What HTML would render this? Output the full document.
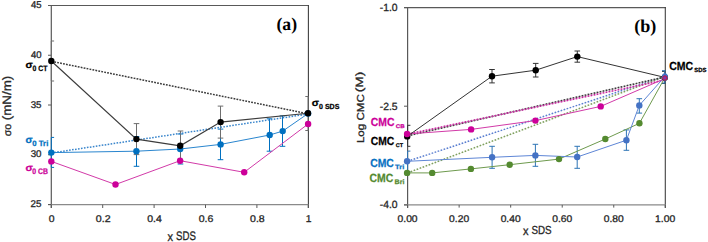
<!DOCTYPE html>
<html><head><meta charset="utf-8"><style>
html,body{margin:0;padding:0;background:#fff;width:708px;height:242px;overflow:hidden}
svg{display:block;text-rendering:geometricPrecision}

</style></head><body>
<svg width="708" height="242" viewBox="0 0 708 242"><defs><clipPath id="cl"><rect x="51.3" y="5" width="257" height="200"/></clipPath><clipPath id="cr"><rect x="407.6" y="7" width="257.8" height="198"/></clipPath></defs>
<line x1="48" y1="5.5" x2="308.5" y2="5.5" stroke="#595959" stroke-width="1.1" />
<line x1="51.3" y1="5" x2="51.3" y2="208" stroke="#595959" stroke-width="1.2" />
<line x1="308.4" y1="5" x2="308.4" y2="208" stroke="#404040" stroke-width="1.1" />
<line x1="48" y1="204.7" x2="308.5" y2="204.7" stroke="#8a8a8a" stroke-width="1.3" />
<line x1="48" y1="5.5" x2="51.3" y2="5.5" stroke="#595959" stroke-width="1" />
<line x1="48" y1="55.25" x2="51.3" y2="55.25" stroke="#595959" stroke-width="1" />
<line x1="48" y1="105.0" x2="51.3" y2="105.0" stroke="#595959" stroke-width="1" />
<line x1="48" y1="154.75" x2="51.3" y2="154.75" stroke="#595959" stroke-width="1" />
<line x1="48" y1="204.5" x2="51.3" y2="204.5" stroke="#595959" stroke-width="1" />
<line x1="51.3" y1="204.7" x2="51.3" y2="208" stroke="#595959" stroke-width="1" />
<line x1="102.69999999999999" y1="204.7" x2="102.69999999999999" y2="208" stroke="#595959" stroke-width="1" />
<line x1="154.1" y1="204.7" x2="154.1" y2="208" stroke="#595959" stroke-width="1" />
<line x1="205.5" y1="204.7" x2="205.5" y2="208" stroke="#595959" stroke-width="1" />
<line x1="256.9" y1="204.7" x2="256.9" y2="208" stroke="#595959" stroke-width="1" />
<line x1="308.3" y1="204.7" x2="308.3" y2="208" stroke="#595959" stroke-width="1" />
<text x="30.91" y="7.85" style="font-family:&quot;Liberation Sans&quot;,sans-serif" font-size="9.86" fill="#262626" stroke="#262626" stroke-width="0.3" text-anchor="start" font-weight="normal" textLength="10.59" lengthAdjust="spacingAndGlyphs" >45</text>
<text x="30.91" y="57.75" style="font-family:&quot;Liberation Sans&quot;,sans-serif" font-size="9.72" fill="#262626" stroke="#262626" stroke-width="0.3" text-anchor="start" font-weight="normal" textLength="10.59" lengthAdjust="spacingAndGlyphs" >40</text>
<text x="30.71" y="107.65" style="font-family:&quot;Liberation Sans&quot;,sans-serif" font-size="9.72" fill="#262626" stroke="#262626" stroke-width="0.3" text-anchor="start" font-weight="normal" textLength="10.8" lengthAdjust="spacingAndGlyphs" >35</text>
<text x="30.71" y="157.15" style="font-family:&quot;Liberation Sans&quot;,sans-serif" font-size="9.72" fill="#262626" stroke="#262626" stroke-width="0.3" text-anchor="start" font-weight="normal" textLength="10.8" lengthAdjust="spacingAndGlyphs" >30</text>
<text x="30.61" y="207.15" style="font-family:&quot;Liberation Sans&quot;,sans-serif" font-size="9.72" fill="#262626" stroke="#262626" stroke-width="0.3" text-anchor="start" font-weight="normal" textLength="10.91" lengthAdjust="spacingAndGlyphs" >25</text>
<text x="48.88" y="221.9" style="font-family:&quot;Liberation Sans&quot;,sans-serif" font-size="9.72" fill="#262626" stroke="#262626" stroke-width="0.3" text-anchor="start" font-weight="normal" textLength="5.79" lengthAdjust="spacingAndGlyphs" >0</text>
<text x="95.88" y="221.9" style="font-family:&quot;Liberation Sans&quot;,sans-serif" font-size="9.72" fill="#262626" stroke="#262626" stroke-width="0.3" text-anchor="start" font-weight="normal" textLength="14.76" lengthAdjust="spacingAndGlyphs" >0.2</text>
<text x="147.28" y="221.9" style="font-family:&quot;Liberation Sans&quot;,sans-serif" font-size="9.72" fill="#262626" stroke="#262626" stroke-width="0.3" text-anchor="start" font-weight="normal" textLength="14.53" lengthAdjust="spacingAndGlyphs" >0.4</text>
<text x="198.68" y="221.9" style="font-family:&quot;Liberation Sans&quot;,sans-serif" font-size="9.72" fill="#262626" stroke="#262626" stroke-width="0.3" text-anchor="start" font-weight="normal" textLength="14.64" lengthAdjust="spacingAndGlyphs" >0.6</text>
<text x="250.08" y="221.9" style="font-family:&quot;Liberation Sans&quot;,sans-serif" font-size="9.72" fill="#262626" stroke="#262626" stroke-width="0.3" text-anchor="start" font-weight="normal" textLength="14.64" lengthAdjust="spacingAndGlyphs" >0.8</text>
<text x="305.78" y="222.0" style="font-family:&quot;Liberation Sans&quot;,sans-serif" font-size="10.0" fill="#262626" stroke="#262626" stroke-width="0.3" text-anchor="start" font-weight="normal" textLength="5.69" lengthAdjust="spacingAndGlyphs" >1</text>
<text x="167.49" y="240.6" style="font-family:&quot;Liberation Sans&quot;,sans-serif" font-size="12.6" fill="#262626" stroke="#262626" stroke-width="0.3" text-anchor="start" font-weight="normal" textLength="5.52" lengthAdjust="spacingAndGlyphs" >x</text>
<text x="176.12" y="240.48" style="font-family:&quot;Liberation Sans&quot;,sans-serif" font-size="12.39" fill="#262626" stroke="#262626" stroke-width="0.3" text-anchor="start" font-weight="normal" textLength="19.83" lengthAdjust="spacingAndGlyphs" >SDS</text>
<g transform="rotate(-90)"><text x="-136.23" y="10.79" style="font-family:&quot;Liberation Sans&quot;,sans-serif" font-size="10.55" fill="#262626" stroke="#262626" stroke-width="0.3" text-anchor="start" font-weight="normal" textLength="12.49" lengthAdjust="spacingAndGlyphs" >σo</text><text x="-120.3" y="10.85" style="font-family:&quot;Liberation Sans&quot;,sans-serif" font-size="12.13" fill="#262626" stroke="#262626" stroke-width="0.3" text-anchor="start" font-weight="normal" textLength="44.63" lengthAdjust="spacingAndGlyphs" >(mN/m)</text></g>
<text x="276.49" y="30.14" style="font-family:&quot;Liberation Serif&quot;,serif" font-size="17.89" fill="#000" text-anchor="start" font-weight="bold" textLength="20.62" lengthAdjust="spacingAndGlyphs" >(a)</text>
<g>
<line x1="51.3" y1="137.4" x2="51.3" y2="167.4" stroke="#0070C0" stroke-width="1.0" /><g clip-path="url(#cl)"><line x1="48.5" y1="137.4" x2="54.099999999999994" y2="137.4" stroke="#0070C0" stroke-width="1.0" /><line x1="48.5" y1="167.4" x2="54.099999999999994" y2="167.4" stroke="#0070C0" stroke-width="1.0" /></g>
<line x1="136.5" y1="136.5" x2="136.5" y2="166.3" stroke="#0070C0" stroke-width="1.0" /><g clip-path="url(#cl)"><line x1="133.7" y1="136.5" x2="139.3" y2="136.5" stroke="#0070C0" stroke-width="1.0" /><line x1="133.7" y1="166.3" x2="139.3" y2="166.3" stroke="#0070C0" stroke-width="1.0" /></g>
<line x1="180.5" y1="134" x2="180.5" y2="164" stroke="#0070C0" stroke-width="1.0" /><g clip-path="url(#cl)"><line x1="177.7" y1="134" x2="183.3" y2="134" stroke="#0070C0" stroke-width="1.0" /><line x1="177.7" y1="164" x2="183.3" y2="164" stroke="#0070C0" stroke-width="1.0" /></g>
<line x1="220.5" y1="129.1" x2="220.5" y2="159.70000000000002" stroke="#0070C0" stroke-width="1.0" /><g clip-path="url(#cl)"><line x1="217.7" y1="129.1" x2="223.3" y2="129.1" stroke="#0070C0" stroke-width="1.0" /><line x1="217.7" y1="159.70000000000002" x2="223.3" y2="159.70000000000002" stroke="#0070C0" stroke-width="1.0" /></g>
<line x1="269.5" y1="118.8" x2="269.5" y2="151.2" stroke="#0070C0" stroke-width="1.0" /><g clip-path="url(#cl)"><line x1="266.7" y1="118.8" x2="272.3" y2="118.8" stroke="#0070C0" stroke-width="1.0" /><line x1="266.7" y1="151.2" x2="272.3" y2="151.2" stroke="#0070C0" stroke-width="1.0" /></g>
<line x1="282.5" y1="115.89999999999999" x2="282.5" y2="146.29999999999998" stroke="#0070C0" stroke-width="1.0" /><g clip-path="url(#cl)"><line x1="279.7" y1="115.89999999999999" x2="285.3" y2="115.89999999999999" stroke="#0070C0" stroke-width="1.0" /><line x1="279.7" y1="146.29999999999998" x2="285.3" y2="146.29999999999998" stroke="#0070C0" stroke-width="1.0" /></g>
<line x1="51.3" y1="41" x2="51.3" y2="81" stroke="#6e6e6e" stroke-width="1.0" /><g clip-path="url(#cl)"><line x1="48.5" y1="41" x2="54.099999999999994" y2="41" stroke="#6e6e6e" stroke-width="1.0" /><line x1="48.5" y1="81" x2="54.099999999999994" y2="81" stroke="#6e6e6e" stroke-width="1.0" /></g>
<line x1="136.5" y1="123.6" x2="136.5" y2="154.6" stroke="#6e6e6e" stroke-width="1.0" /><g clip-path="url(#cl)"><line x1="133.7" y1="123.6" x2="139.3" y2="123.6" stroke="#6e6e6e" stroke-width="1.0" /><line x1="133.7" y1="154.6" x2="139.3" y2="154.6" stroke="#6e6e6e" stroke-width="1.0" /></g>
<line x1="180.5" y1="131.0" x2="180.5" y2="160.60000000000002" stroke="#6e6e6e" stroke-width="1.0" /><g clip-path="url(#cl)"><line x1="177.7" y1="131.0" x2="183.3" y2="131.0" stroke="#6e6e6e" stroke-width="1.0" /><line x1="177.7" y1="160.60000000000002" x2="183.3" y2="160.60000000000002" stroke="#6e6e6e" stroke-width="1.0" /></g>
<line x1="220.5" y1="106.1" x2="220.5" y2="138.1" stroke="#6e6e6e" stroke-width="1.0" /><g clip-path="url(#cl)"><line x1="217.7" y1="106.1" x2="223.3" y2="106.1" stroke="#6e6e6e" stroke-width="1.0" /><line x1="217.7" y1="138.1" x2="223.3" y2="138.1" stroke="#6e6e6e" stroke-width="1.0" /></g>
<line x1="308.1" y1="96.5" x2="308.1" y2="130.5" stroke="#6e6e6e" stroke-width="1.0" /><g clip-path="url(#cl)"><line x1="305.3" y1="96.5" x2="310.90000000000003" y2="96.5" stroke="#6e6e6e" stroke-width="1.0" /><line x1="305.3" y1="130.5" x2="310.90000000000003" y2="130.5" stroke="#6e6e6e" stroke-width="1.0" /></g>
<line x1="51.3" y1="61.3" x2="308.0" y2="113.8" stroke="#3a3a3a" stroke-width="1.5" stroke-dasharray="1.8 1.2"/>
<line x1="51.3" y1="153.0" x2="308.1" y2="114.0" stroke="#3A86CC" stroke-width="1.5" stroke-dasharray="1.6 1.4"/>
<polyline points="51.3,161.4 115.5,184.5 180.1,160.7 244.2,172.3 308.1,124.0" fill="none" stroke="#D23AA8" stroke-width="1.0" />
<polyline points="51.3,152.6 136.4,151.2 180.2,149 220.6,144.4 269.7,135 282.7,131.1 308.1,113.5" fill="none" stroke="#2A86CF" stroke-width="1.0" />
<polyline points="51.3,61 136.4,139.1 180.2,145.8 220.6,122.1 308.0,113.3" fill="none" stroke="#3c3c3c" stroke-width="1.15" />
</g>
<circle cx="51.3" cy="161.4" r="3.2" fill="#CC0099"/><circle cx="115.5" cy="184.5" r="3.2" fill="#CC0099"/><circle cx="180.1" cy="160.7" r="3.2" fill="#CC0099"/><circle cx="244.2" cy="172.3" r="3.2" fill="#CC0099"/><circle cx="308.1" cy="124.0" r="3.2" fill="#CC0099"/>
<circle cx="51.3" cy="152.6" r="3.2" fill="#0070C0"/><circle cx="136.4" cy="151.2" r="3.2" fill="#0070C0"/><circle cx="180.2" cy="149" r="3.2" fill="#0070C0"/><circle cx="220.6" cy="144.4" r="3.2" fill="#0070C0"/><circle cx="269.7" cy="135" r="3.2" fill="#0070C0"/><circle cx="282.7" cy="131.1" r="3.2" fill="#0070C0"/><circle cx="308.1" cy="113.5" r="3.2" fill="#0070C0"/>
<circle cx="51.3" cy="61" r="3.2" fill="#000"/><circle cx="136.4" cy="139.1" r="3.2" fill="#000"/><circle cx="180.2" cy="145.8" r="3.2" fill="#000"/><circle cx="220.6" cy="122.1" r="3.2" fill="#000"/><circle cx="308.0" cy="113.3" r="3.2" fill="#000"/>
<text x="25.57" y="67.5" style="font-family:&quot;Liberation Sans&quot;,sans-serif" font-size="9.81" fill="#000" stroke="#000" stroke-width="0.25" text-anchor="start" font-weight="bold" textLength="7.28" lengthAdjust="spacingAndGlyphs" >σ</text>
<text x="32.62" y="70.52" style="font-family:&quot;Liberation Sans&quot;,sans-serif" font-size="7.75" fill="#000" stroke="#000" stroke-width="0.25" text-anchor="start" font-weight="bold" textLength="14.92" lengthAdjust="spacingAndGlyphs" >0 CT</text>
<text x="25.49" y="142.5" style="font-family:&quot;Liberation Sans&quot;,sans-serif" font-size="10.0" fill="#0070C0" stroke="#0070C0" stroke-width="0.25" text-anchor="start" font-weight="bold" textLength="7.06" lengthAdjust="spacingAndGlyphs" >σ</text>
<text x="32.29" y="145.72" style="font-family:&quot;Liberation Sans&quot;,sans-serif" font-size="7.7" fill="#0070C0" stroke="#0070C0" stroke-width="0.25" text-anchor="start" font-weight="bold" textLength="16.03" lengthAdjust="spacingAndGlyphs" >0 Tri</text>
<text x="25.47" y="170.5" style="font-family:&quot;Liberation Sans&quot;,sans-serif" font-size="9.81" fill="#CC0099" stroke="#CC0099" stroke-width="0.25" text-anchor="start" font-weight="bold" textLength="7.39" lengthAdjust="spacingAndGlyphs" >σ</text>
<text x="32.32" y="173.92" style="font-family:&quot;Liberation Sans&quot;,sans-serif" font-size="8.03" fill="#CC0099" stroke="#CC0099" stroke-width="0.25" text-anchor="start" font-weight="bold" textLength="15.71" lengthAdjust="spacingAndGlyphs" >0 CB</text>
<text x="311.87" y="105.5" style="font-family:&quot;Liberation Sans&quot;,sans-serif" font-size="9.81" fill="#000" stroke="#000" stroke-width="0.25" text-anchor="start" font-weight="bold" textLength="7.28" lengthAdjust="spacingAndGlyphs" >σ</text>
<text x="319.02" y="108.53" style="font-family:&quot;Liberation Sans&quot;,sans-serif" font-size="7.32" fill="#000" stroke="#000" stroke-width="0.25" text-anchor="start" font-weight="bold" textLength="20.36" lengthAdjust="spacingAndGlyphs" >0 SDS</text>
<line x1="404" y1="7.6" x2="665.8" y2="7.6" stroke="#595959" stroke-width="1.1" />
<line x1="407.6" y1="7" x2="407.6" y2="208" stroke="#595959" stroke-width="1.2" />
<line x1="665.3" y1="7" x2="665.3" y2="208" stroke="#404040" stroke-width="1.1" />
<line x1="404" y1="204.9" x2="665.8" y2="204.9" stroke="#8a8a8a" stroke-width="1.3" />
<line x1="404" y1="7.6" x2="407.6" y2="7.6" stroke="#595959" stroke-width="1" />
<line x1="404" y1="106.2" x2="407.6" y2="106.2" stroke="#595959" stroke-width="1" />
<line x1="404" y1="204.9" x2="407.6" y2="204.9" stroke="#595959" stroke-width="1" />
<line x1="407.6" y1="204.9" x2="407.6" y2="207.6" stroke="#595959" stroke-width="1" />
<line x1="459.14" y1="204.9" x2="459.14" y2="207.6" stroke="#595959" stroke-width="1" />
<line x1="510.68" y1="204.9" x2="510.68" y2="207.6" stroke="#595959" stroke-width="1" />
<line x1="562.22" y1="204.9" x2="562.22" y2="207.6" stroke="#595959" stroke-width="1" />
<line x1="613.76" y1="204.9" x2="613.76" y2="207.6" stroke="#595959" stroke-width="1" />
<line x1="665.3" y1="204.9" x2="665.3" y2="207.6" stroke="#595959" stroke-width="1" />
<text x="379.79" y="10.5" style="font-family:&quot;Liberation Sans&quot;,sans-serif" font-size="10.42" fill="#262626" stroke="#262626" stroke-width="0.3" text-anchor="start" font-weight="normal" textLength="17.86" lengthAdjust="spacingAndGlyphs" >-1.0</text>
<text x="379.79" y="109.6" style="font-family:&quot;Liberation Sans&quot;,sans-serif" font-size="10.42" fill="#262626" stroke="#262626" stroke-width="0.3" text-anchor="start" font-weight="normal" textLength="17.86" lengthAdjust="spacingAndGlyphs" >-2.5</text>
<text x="379.79" y="208.2" style="font-family:&quot;Liberation Sans&quot;,sans-serif" font-size="10.42" fill="#262626" stroke="#262626" stroke-width="0.3" text-anchor="start" font-weight="normal" textLength="17.86" lengthAdjust="spacingAndGlyphs" >-4.0</text>
<text x="397.59" y="221.9" style="font-family:&quot;Liberation Sans&quot;,sans-serif" font-size="9.72" fill="#262626" stroke="#262626" stroke-width="0.3" text-anchor="start" font-weight="normal" textLength="19.98" lengthAdjust="spacingAndGlyphs" >0.00</text>
<text x="449.13" y="221.9" style="font-family:&quot;Liberation Sans&quot;,sans-serif" font-size="9.72" fill="#262626" stroke="#262626" stroke-width="0.3" text-anchor="start" font-weight="normal" textLength="19.98" lengthAdjust="spacingAndGlyphs" >0.20</text>
<text x="500.67" y="221.9" style="font-family:&quot;Liberation Sans&quot;,sans-serif" font-size="9.72" fill="#262626" stroke="#262626" stroke-width="0.3" text-anchor="start" font-weight="normal" textLength="19.98" lengthAdjust="spacingAndGlyphs" >0.40</text>
<text x="552.21" y="221.9" style="font-family:&quot;Liberation Sans&quot;,sans-serif" font-size="9.72" fill="#262626" stroke="#262626" stroke-width="0.3" text-anchor="start" font-weight="normal" textLength="19.98" lengthAdjust="spacingAndGlyphs" >0.60</text>
<text x="603.75" y="221.9" style="font-family:&quot;Liberation Sans&quot;,sans-serif" font-size="9.72" fill="#262626" stroke="#262626" stroke-width="0.3" text-anchor="start" font-weight="normal" textLength="19.98" lengthAdjust="spacingAndGlyphs" >0.80</text>
<text x="654.97" y="221.9" style="font-family:&quot;Liberation Sans&quot;,sans-serif" font-size="9.72" fill="#262626" stroke="#262626" stroke-width="0.3" text-anchor="start" font-weight="normal" textLength="20.21" lengthAdjust="spacingAndGlyphs" >1.00</text>
<text x="522.89" y="234.6" style="font-family:&quot;Liberation Sans&quot;,sans-serif" font-size="12.2" fill="#262626" stroke="#262626" stroke-width="0.3" text-anchor="start" font-weight="normal" textLength="5.52" lengthAdjust="spacingAndGlyphs" >x</text>
<text x="531.41" y="234.48" style="font-family:&quot;Liberation Sans&quot;,sans-serif" font-size="11.69" fill="#262626" stroke="#262626" stroke-width="0.3" text-anchor="start" font-weight="normal" textLength="20.14" lengthAdjust="spacingAndGlyphs" >SDS</text>
<g transform="rotate(-90)"><text x="-143.13" y="363.58" style="font-family:&quot;Liberation Sans&quot;,sans-serif" font-size="10.11" fill="#262626" stroke="#262626" stroke-width="0.3" text-anchor="start" font-weight="normal" textLength="48.93" lengthAdjust="spacingAndGlyphs" >Log CMC</text><text x="-92.23" y="363.49" style="font-family:&quot;Liberation Sans&quot;,sans-serif" font-size="10.53" fill="#262626" stroke="#262626" stroke-width="0.3" text-anchor="start" font-weight="normal" textLength="20.64" lengthAdjust="spacingAndGlyphs" >(M)</text></g>
<text x="634.28" y="32.07" style="font-family:&quot;Liberation Serif&quot;,serif" font-size="18.22" fill="#000" text-anchor="start" font-weight="bold" textLength="22.09" lengthAdjust="spacingAndGlyphs" >(b)</text>
<g>
<line x1="407.6" y1="125.30000000000001" x2="407.6" y2="146.3" stroke="#333" stroke-width="1.0" /><g clip-path="url(#cr)"><line x1="404.8" y1="125.30000000000001" x2="410.40000000000003" y2="125.30000000000001" stroke="#333" stroke-width="1.0" /><line x1="404.8" y1="146.3" x2="410.40000000000003" y2="146.3" stroke="#333" stroke-width="1.0" /></g>
<line x1="492" y1="69.5" x2="492" y2="82.9" stroke="#333" stroke-width="1.0" /><g clip-path="url(#cr)"><line x1="489.2" y1="69.5" x2="494.8" y2="69.5" stroke="#333" stroke-width="1.0" /><line x1="489.2" y1="82.9" x2="494.8" y2="82.9" stroke="#333" stroke-width="1.0" /></g>
<line x1="535.7" y1="63.400000000000006" x2="535.7" y2="77.0" stroke="#333" stroke-width="1.0" /><g clip-path="url(#cr)"><line x1="532.9000000000001" y1="63.400000000000006" x2="538.5" y2="63.400000000000006" stroke="#333" stroke-width="1.0" /><line x1="532.9000000000001" y1="77.0" x2="538.5" y2="77.0" stroke="#333" stroke-width="1.0" /></g>
<line x1="577.3" y1="51.0" x2="577.3" y2="62.2" stroke="#333" stroke-width="1.0" /><g clip-path="url(#cr)"><line x1="574.5" y1="51.0" x2="580.0999999999999" y2="51.0" stroke="#333" stroke-width="1.0" /><line x1="574.5" y1="62.2" x2="580.0999999999999" y2="62.2" stroke="#333" stroke-width="1.0" /></g>
<line x1="664.8" y1="71.4" x2="664.8" y2="83.4" stroke="#333" stroke-width="1.0" /><g clip-path="url(#cr)"><line x1="662.0" y1="71.4" x2="667.5999999999999" y2="71.4" stroke="#333" stroke-width="1.0" /><line x1="662.0" y1="83.4" x2="667.5999999999999" y2="83.4" stroke="#333" stroke-width="1.0" /></g>
<line x1="407.6" y1="151.10000000000002" x2="407.6" y2="171.5" stroke="#2E75B6" stroke-width="1.0" /><g clip-path="url(#cr)"><line x1="404.8" y1="151.10000000000002" x2="410.40000000000003" y2="151.10000000000002" stroke="#2E75B6" stroke-width="1.0" /><line x1="404.8" y1="171.5" x2="410.40000000000003" y2="171.5" stroke="#2E75B6" stroke-width="1.0" /></g>
<line x1="492.1" y1="146.3" x2="492.1" y2="168.3" stroke="#2E75B6" stroke-width="1.0" /><g clip-path="url(#cr)"><line x1="489.3" y1="146.3" x2="494.90000000000003" y2="146.3" stroke="#2E75B6" stroke-width="1.0" /><line x1="489.3" y1="168.3" x2="494.90000000000003" y2="168.3" stroke="#2E75B6" stroke-width="1.0" /></g>
<line x1="535.4" y1="144.3" x2="535.4" y2="166.3" stroke="#2E75B6" stroke-width="1.0" /><g clip-path="url(#cr)"><line x1="532.6" y1="144.3" x2="538.1999999999999" y2="144.3" stroke="#2E75B6" stroke-width="1.0" /><line x1="532.6" y1="166.3" x2="538.1999999999999" y2="166.3" stroke="#2E75B6" stroke-width="1.0" /></g>
<line x1="577.2" y1="146.3" x2="577.2" y2="168.3" stroke="#2E75B6" stroke-width="1.0" /><g clip-path="url(#cr)"><line x1="574.4000000000001" y1="146.3" x2="580.0" y2="146.3" stroke="#2E75B6" stroke-width="1.0" /><line x1="574.4000000000001" y1="168.3" x2="580.0" y2="168.3" stroke="#2E75B6" stroke-width="1.0" /></g>
<line x1="626.4" y1="129.9" x2="626.4" y2="150.29999999999998" stroke="#2E75B6" stroke-width="1.0" /><g clip-path="url(#cr)"><line x1="623.6" y1="129.9" x2="629.1999999999999" y2="129.9" stroke="#2E75B6" stroke-width="1.0" /><line x1="623.6" y1="150.29999999999998" x2="629.1999999999999" y2="150.29999999999998" stroke="#2E75B6" stroke-width="1.0" /></g>
<line x1="639.3" y1="98.7" x2="639.3" y2="113.10000000000001" stroke="#2E75B6" stroke-width="1.0" /><g clip-path="url(#cr)"><line x1="636.5" y1="98.7" x2="642.0999999999999" y2="98.7" stroke="#2E75B6" stroke-width="1.0" /><line x1="636.5" y1="113.10000000000001" x2="642.0999999999999" y2="113.10000000000001" stroke="#2E75B6" stroke-width="1.0" /></g>
<line x1="664.8" y1="70.7" x2="664.8" y2="83.10000000000001" stroke="#2E75B6" stroke-width="1.0" /><g clip-path="url(#cr)"><line x1="662.0" y1="70.7" x2="667.5999999999999" y2="70.7" stroke="#2E75B6" stroke-width="1.0" /><line x1="662.0" y1="83.10000000000001" x2="667.5999999999999" y2="83.10000000000001" stroke="#2E75B6" stroke-width="1.0" /></g>
<line x1="407.6" y1="161.3" x2="664.8" y2="76.5" stroke="#5B7FD0" stroke-width="1.5" stroke-dasharray="1.685 1.474"/>
<line x1="407.6" y1="172.9" x2="664.8" y2="76.5" stroke="#7FA05E" stroke-width="1.5" stroke-dasharray="1.709 1.495"/>
<line x1="407.6" y1="135.8" x2="664.8" y2="77.0" stroke="#3a3a3a" stroke-width="1.6" stroke-dasharray="1.846 1.231"/>
<line x1="407.6" y1="134.1" x2="664.8" y2="80.0" stroke="#C8259F" stroke-width="1.6" stroke-dasharray="1.839 1.226"/>
<polyline points="407.1,172.9 432.2,172.9 470.9,168.9 509.7,164.7 559.0,159.1 605.3,139.0 639.4,123.3 664.8,77.8" fill="none" stroke="#6E9A4E" stroke-width="1.0" />
<polyline points="407.1,161.3 492.1,157.3 535.4,155.4 577.2,157 626.4,140.2 639.3,105.4 664.8,76.6" fill="none" stroke="#5E86D6" stroke-width="1.0" />
<polyline points="407.1,134.0 471.1,129.4 535.4,120.6 600.7,106.4 664.8,78.6" fill="none" stroke="#D23AA8" stroke-width="1.0" />
<polyline points="407.2,136.4 492,76.2 535.7,70.2 577.3,56.6 664.8,77.4" fill="none" stroke="#333" stroke-width="1.0" />
</g>
<circle cx="407.1" cy="172.9" r="3.2" fill="#548A30"/><circle cx="432.2" cy="172.9" r="3.2" fill="#548A30"/><circle cx="470.9" cy="168.9" r="3.2" fill="#548A30"/><circle cx="509.7" cy="164.7" r="3.2" fill="#548A30"/><circle cx="559.0" cy="159.1" r="3.2" fill="#548A30"/><circle cx="605.3" cy="139.0" r="3.2" fill="#548A30"/><circle cx="639.4" cy="123.3" r="3.2" fill="#548A30"/>
<circle cx="407.2" cy="136.4" r="3.2" fill="#000"/><circle cx="492" cy="76.2" r="3.2" fill="#000"/><circle cx="535.7" cy="70.2" r="3.2" fill="#000"/><circle cx="577.3" cy="56.6" r="3.2" fill="#000"/><circle cx="664.8" cy="77.4" r="3.2" fill="#000"/>
<circle cx="407.1" cy="134.0" r="3.2" fill="#CC0099"/><circle cx="471.1" cy="129.4" r="3.2" fill="#CC0099"/><circle cx="535.4" cy="120.6" r="3.2" fill="#CC0099"/><circle cx="600.7" cy="106.4" r="3.2" fill="#CC0099"/>
<circle cx="407.1" cy="161.3" r="3.2" fill="#4472C4"/><circle cx="492.1" cy="157.3" r="3.2" fill="#4472C4"/><circle cx="535.4" cy="155.4" r="3.2" fill="#4472C4"/><circle cx="577.2" cy="157" r="3.2" fill="#4472C4"/><circle cx="626.4" cy="140.2" r="3.2" fill="#4472C4"/><circle cx="639.3" cy="105.4" r="3.2" fill="#4472C4"/>
<ellipse cx="664.9" cy="77.0" rx="3.0" ry="3.8" fill="#3F72C8"/>
<circle cx="664.9" cy="78.0" r="2.2" fill="#7A3AB0" stroke="#D0103C" stroke-width="1.0"/>
<text x="370.79" y="126.48" style="font-family:&quot;Liberation Sans&quot;,sans-serif" font-size="11.69" fill="#CC0099" stroke="#CC0099" stroke-width="0.25" text-anchor="start" font-weight="bold" textLength="23.6" lengthAdjust="spacingAndGlyphs" >CMC</text>
<text x="395.86" y="128.35" style="font-family:&quot;Liberation Sans&quot;,sans-serif" font-size="5.35" fill="#CC0099" stroke="#CC0099" stroke-width="0.25" text-anchor="start" font-weight="bold" textLength="8.81" lengthAdjust="spacingAndGlyphs" >CB</text>
<text x="370.79" y="144.78" style="font-family:&quot;Liberation Sans&quot;,sans-serif" font-size="11.69" fill="#000" stroke="#000" stroke-width="0.25" text-anchor="start" font-weight="bold" textLength="23.49" lengthAdjust="spacingAndGlyphs" >CMC</text>
<text x="395.88" y="146.65" style="font-family:&quot;Liberation Sans&quot;,sans-serif" font-size="5.35" fill="#000" stroke="#000" stroke-width="0.25" text-anchor="start" font-weight="bold" textLength="7.19" lengthAdjust="spacingAndGlyphs" >CT</text>
<text x="370.19" y="167.48" style="font-family:&quot;Liberation Sans&quot;,sans-serif" font-size="11.69" fill="#0A72C2" stroke="#0A72C2" stroke-width="0.25" text-anchor="start" font-weight="bold" textLength="23.6" lengthAdjust="spacingAndGlyphs" >CMC</text>
<text x="395.13" y="168.9" style="font-family:&quot;Liberation Sans&quot;,sans-serif" font-size="6.3" fill="#0A72C2" stroke="#0A72C2" stroke-width="0.25" text-anchor="start" font-weight="bold" textLength="9.12" lengthAdjust="spacingAndGlyphs" >Tri</text>
<text x="369.58" y="182.48" style="font-family:&quot;Liberation Sans&quot;,sans-serif" font-size="11.97" fill="#548A30" stroke="#548A30" stroke-width="0.25" text-anchor="start" font-weight="bold" textLength="23.8" lengthAdjust="spacingAndGlyphs" >CMC</text>
<text x="394.6" y="184.0" style="font-family:&quot;Liberation Sans&quot;,sans-serif" font-size="6.44" fill="#548A30" stroke="#548A30" stroke-width="0.25" text-anchor="start" font-weight="bold" textLength="9.89" lengthAdjust="spacingAndGlyphs" >Bri</text>
<text x="669.18" y="70.48" style="font-family:&quot;Liberation Sans&quot;,sans-serif" font-size="11.69" fill="#000" stroke="#000" stroke-width="0.25" text-anchor="start" font-weight="bold" textLength="23.91" lengthAdjust="spacingAndGlyphs" >CMC</text>
<text x="694.22" y="72.14" style="font-family:&quot;Liberation Sans&quot;,sans-serif" font-size="6.06" fill="#000" stroke="#000" stroke-width="0.25" text-anchor="start" font-weight="bold" textLength="12.19" lengthAdjust="spacingAndGlyphs" >SDS</text></svg>
</body></html>
